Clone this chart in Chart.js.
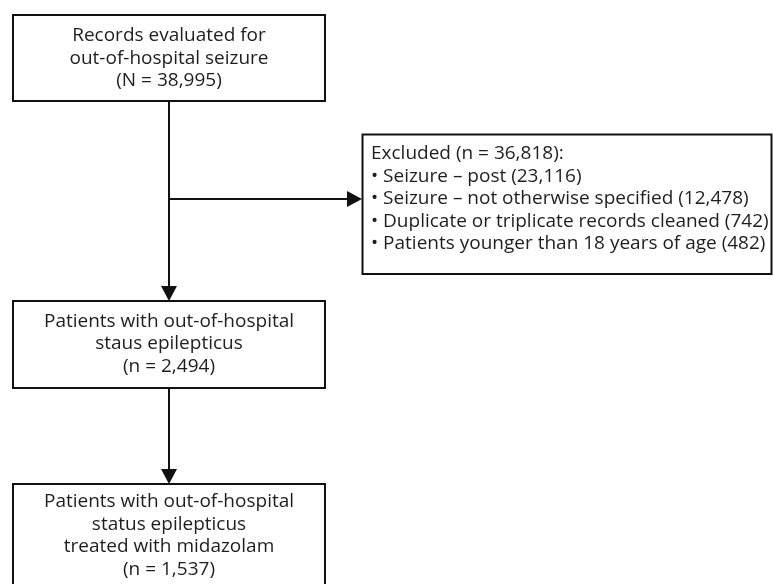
<!DOCTYPE html>
<html>
<head>
<meta charset="utf-8">
<script src="https://cdn.jsdelivr.net/npm/chart.js@4.4.1/dist/chart.umd.min.js"></script>
<style>
  html, body { margin: 0; padding: 0; background: #fff; }
  #wrap { width: 773px; height: 584px; }
</style>
</head>
<body>
<div id="wrap"><canvas id="flowChart"></canvas></div>
<script>
// Texte der Kästen
const recordsLines = ['Records evaluated for', 'out-of-hospital seizure', '(N = 38,995)'];
const excludedLines = [
  'Excluded (n = 36,818):',
  '\u2022 Seizure \u2013 post (23,116)',
  '\u2022 Seizure \u2013 not otherwise specified (12,478)',
  '\u2022 Duplicate or triplicate records cleaned (742)',
  '\u2022 Patients younger than 18 years of age (482)'
];
const statusLines = ['Patients with out-of-hospital', 'staus epilepticus', '(n = 2,494)'];
const treatedLines = ['Patients with out-of-hospital', 'status epilepticus', 'treated with midazolam', '(n = 1,537)'];

// Layout (in Achsen-Einheiten, 1 Einheit = 1 px)
const boxes = [
  { lines: recordsLines, x0: 13, x1: 325, y0: 15, y1: 101, first: 41, align: 'center' },
  { lines: excludedLines, x0: 362.5, x1: 771.5, y0: 134.5, y1: 274, first: 159, align: 'left' },
  { lines: statusLines, x0: 13, x1: 325, y0: 301, y1: 388, first: 326.5, align: 'center' },
  { lines: treatedLines, x0: 13, x1: 325, y0: 484, y1: 590, first: 507, align: 'center' }
];
const arrows = [
  [[169, 101], [169, 301]],
  [[169, 199], [362, 199]],
  [[169, 388], [169, 484]]
];
const lineGap = 22.5;

const flowPlugin = {
  id: 'flow',
  afterDraw(chart) {
    const ctx = chart.ctx;
    const sx = chart.scales.x, sy = chart.scales.y;
    const px = v => sx.getPixelForValue(v);
    const py = v => sy.getPixelForValue(v);
    ctx.save();
    ctx.strokeStyle = '#111';
    ctx.fillStyle = '#111';
    ctx.lineWidth = 2;

    boxes.forEach(b => {
      ctx.fillStyle = '#fff';
      ctx.fillRect(px(b.x0), py(b.y0), px(b.x1) - px(b.x0), py(b.y1) - py(b.y0));
      ctx.strokeRect(px(b.x0), py(b.y0), px(b.x1) - px(b.x0), py(b.y1) - py(b.y0));
      ctx.fillStyle = '#1e1e1e';
      ctx.font = '19px "Open Sans"';
      ctx.textBaseline = 'alphabetic';
      ctx.textAlign = b.align;
      const tx = b.align === 'center' ? px((b.x0 + b.x1) / 2) : px(b.x0 + 8.5);
      b.lines.forEach((t, i) => ctx.fillText(t, tx, py(b.first + i * lineGap)));
    });

    ctx.fillStyle = '#111';
    arrows.forEach(a => {
      const [p0, p1] = a;
      const x0 = px(p0[0]), y0 = py(p0[1]), x1 = px(p1[0]), y1 = py(p1[1]);
      const ang = Math.atan2(y1 - y0, x1 - x0);
      const len = 15, half = 8;
      const bx = x1 - len * Math.cos(ang), by = y1 - len * Math.sin(ang);
      ctx.beginPath();
      ctx.moveTo(x0, y0);
      ctx.lineTo(bx, by);
      ctx.stroke();
      ctx.beginPath();
      ctx.moveTo(x1, y1);
      ctx.lineTo(bx + half * Math.sin(ang), by - half * Math.cos(ang));
      ctx.lineTo(bx - half * Math.sin(ang), by + half * Math.cos(ang));
      ctx.closePath();
      ctx.fill();
    });
    ctx.restore();
  }
};

document.fonts.load('19px "Open Sans"').finally(() => {
  new Chart(document.getElementById('flowChart'), {
    type: 'scatter',
    data: { datasets: [{ data: [], pointRadius: 0 }] },
    options: {
      responsive: true,
      maintainAspectRatio: false,
      animation: false,
      layout: { padding: 0 },
      plugins: { legend: { display: false }, tooltip: { enabled: false } },
      scales: {
        x: { type: 'linear', min: 0, max: 773, display: false },
        y: { type: 'linear', min: 0, max: 584, reverse: true, display: false }
      }
    },
    plugins: [flowPlugin]
  });
});
</script>
</body>
</html>
